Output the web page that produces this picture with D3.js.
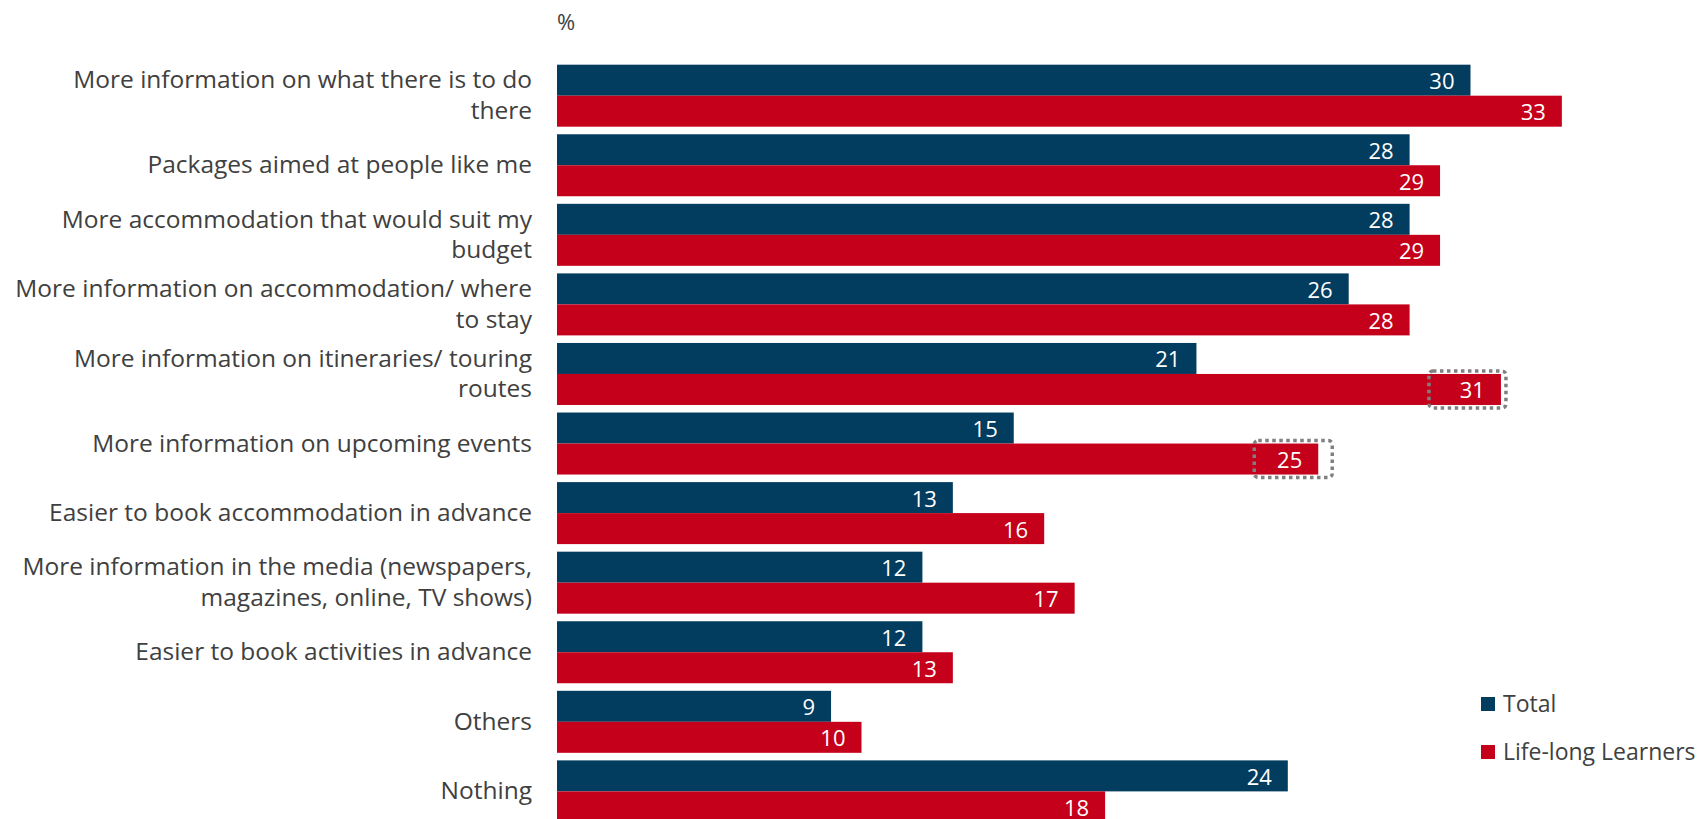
<!DOCTYPE html>
<html>
<head>
<meta charset="utf-8">
<script src="https://cdn.jsdelivr.net/npm/d3@7"></script>
<style>
  html, body { margin: 0; padding: 0; background: #fff; }
  text { font-family: "Open Sans", "DejaVu Sans", sans-serif; }
</style>
</head>
<body>
<div id="chart"></div>
<script>
// ── Data ─────────────────────────────────────────────────────────────
const categories = [
  'More information on what there is to do\nthere',
  'Packages aimed at people like me',
  'More accommodation that would suit my\nbudget',
  'More information on accommodation/ where\nto stay',
  'More information on itineraries/ touring\nroutes',
  'More information on upcoming events',
  'Easier to book accommodation in advance',
  'More information in the media (newspapers,\nmagazines, online, TV shows)',
  'Easier to book activities in advance',
  'Others',
  'Nothing'
];
const seriesNames = ['Total', 'Life-long Learners'];
const totalValues = [30, 28, 28, 26, 21, 15, 13, 12, 12, 9, 24];
const learnerValues = [33, 29, 29, 28, 31, 25, 16, 17, 13, 10, 18];
// Life-long Learners values flagged with a dotted box
const highlighted = [4, 5];

// ── Layout ───────────────────────────────────────────────────────────
const WIDTH = 1699;
const HEIGHT = 819;
const X0 = 557;
const UNIT = 30.45;
const COLORS = ['#023c5e', '#c5001a'];
const TEXT = '#404040';

const svg = d3.select('#chart').append('svg')
  .attr('width', WIDTH)
  .attr('height', HEIGHT);

const x = d3.scaleLinear().domain([0, 33]).range([X0, X0 + 33 * UNIT]);

const y = d3.scaleBand()
  .domain(categories)
  .range([60.9, 60.9 + 11 * 69.57])
  .paddingInner(0.1088)
  .paddingOuter(0.0544);

const sub = d3.scaleBand().domain([0, 1]).range([0, y.bandwidth()]);

const rows = categories.map((c, i) => ({cat: c, vals: [totalValues[i], learnerValues[i]], idx: i}));

const groups = svg.selectAll('.grp').data(rows).join('g')
  .attr('class', 'grp')
  .attr('transform', (d) => `translate(0,${y(d.cat)})`);

groups.selectAll('rect').data((d) => d.vals.map((v, s) => ({v, s}))).join('rect')
  .attr('x', x(0))
  .attr('y', (d) => sub(d.s))
  .attr('width', (d) => x(d.v) - x(0))
  .attr('height', sub.bandwidth())
  .attr('fill', (d) => COLORS[d.s]);

groups.selectAll('text.val').data((d) => d.vals.map((v, s) => ({v, s}))).join('text')
  .attr('class', 'val')
  .attr('x', (d) => x(d.v) - 16)
  .attr('y', (d) => sub(d.s) + sub.bandwidth() / 2 + 9)
  .attr('text-anchor', 'end')
  .attr('fill', '#fff')
  .attr('font-size', 22)
  .text((d) => d.v);

// dotted boxes around highlighted values
const boxPad = {4: [-72, 5], 5: [-64, 14]};
highlighted.forEach((i) => {
  const end = x(learnerValues[i]);
  const top = y(categories[i]) + sub(1);
  svg.append('rect')
    .attr('x', end + boxPad[i][0])
    .attr('y', top - 3)
    .attr('width', boxPad[i][1] - boxPad[i][0])
    .attr('height', sub.bandwidth() + 6)
    .attr('rx', 4)
    .attr('fill', 'none')
    .attr('stroke', '#808080')
    .attr('stroke-width', 3.5)
    .attr('stroke-dasharray', '3.5 3.5');
});

// category labels
const labels = svg.selectAll('.cat').data(rows).join('text')
  .attr('class', 'cat')
  .attr('text-anchor', 'end')
  .attr('fill', TEXT)
  .attr('font-size', 24.5);

labels.each(function(d) {
  const lines = d.cat.split('\n');
  const cy = y(d.cat) + y.bandwidth() / 2;
  const lh = 30.5;
  const first = cy - (lines.length - 1) * lh / 2 + 8;
  d3.select(this).selectAll('tspan').data(lines).join('tspan')
    .attr('x', 532)
    .attr('y', (l, k) => first + k * lh)
    .text((l) => l);
});

// unit label
svg.append('text')
  .attr('x', 557)
  .attr('y', 30)
  .attr('fill', TEXT)
  .attr('font-size', 22)
  .text('%');

// legend
const legend = svg.selectAll('.leg').data(seriesNames).join('g')
  .attr('class', 'leg')
  .attr('transform', (d, i) => `translate(1481,${697 + i * 48})`);
legend.append('rect')
  .attr('width', 14)
  .attr('height', 14)
  .attr('fill', (d, i) => COLORS[i]);
legend.append('text')
  .attr('x', 22)
  .attr('y', 15)
  .attr('fill', TEXT)
  .attr('font-size', 23)
  .text((d) => d);
</script>
</body>
</html>
